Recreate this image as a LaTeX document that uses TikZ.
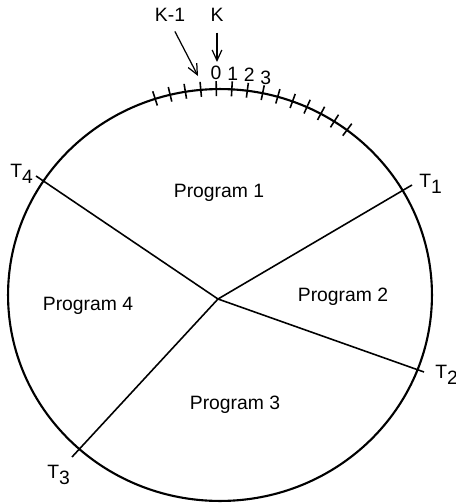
\documentclass[tikz,border=0pt]{standalone}
\usepackage{fontspec}
\setmainfont{Liberation Sans}
\usetikzlibrary{arrows.meta}

\begin{document}
\begin{tikzpicture}[x=0.02cm,y=-0.02cm,
    lbl/.style={font=\fontsize{11}{13}\selectfont, inner sep=0pt},
    spoke/.style={line width=0.9pt},
    ptr/.style={-{Straight Barb[length=6pt,width=5.5pt]}, line width=0.7pt}]
  \useasboundingbox (0,0) rectangle (456,504);

  % ring
  \coordinate (O) at (220,295);
  \draw[line width=1.2pt] (O) ellipse [x radius=4.24cm, y radius=4.12cm];

  % ticks on the ring, 0 at the top
  \foreach \k in {-4,...,9}
    \draw[line width=0.9pt] ({220+205*cos(91-4.2*\k)},{295-199*sin(91-4.2*\k)})
      -- ({220+220*cos(91-4.2*\k)},{295-214*sin(91-4.2*\k)});
  \foreach \k in {0,...,3}
    \node[lbl] (n\k) at ({220+228*cos(91-4.2*\k)},{295-222*sin(91-4.2*\k)}) {\k};

  % pointers
  \node[lbl] (K) at (217,15) {K};
  \node[lbl] (Km) at (170,15) {K-1};
  \coordinate (k0) at (217,62);
  \coordinate (k1) at (198,76);
  \draw[ptr, shorten <=6pt] (K.south) -- (k0);
  \draw[ptr, shorten <=6pt] (Km.south) -- (k1);

  % spokes
  \coordinate (H) at (218,299);
  \coordinate (e1) at (412,185);
  \coordinate (e2) at (424,372);
  \coordinate (e3) at (72,457);
  \coordinate (e4) at (36,176);
  \draw[spoke] (H) -- (e1) (H) -- (e2) (H) -- (e3) (H) -- (e4);

  \node[lbl, anchor=base west] (t1) at (419,187) {T\raisebox{-0.65ex}{1}};
  \node[lbl, anchor=base west] (t2) at (435,378) {T\raisebox{-0.65ex}{2}};
  \node[lbl, anchor=base west] (t3) at (47,478) {T\raisebox{-0.65ex}{3}};
  \node[lbl, anchor=base west] (t4) at (10,177) {T\raisebox{-0.65ex}{4}};

  % sectors
  \node[lbl] (p1) at (219,193) {Program 1};
  \node[lbl] (p2) at (343,297) {Program 2};
  \node[lbl] (p3) at (235,405) {Program 3};
  \node[lbl] (p4) at (88,306) {Program 4};
\end{tikzpicture}
\end{document}
